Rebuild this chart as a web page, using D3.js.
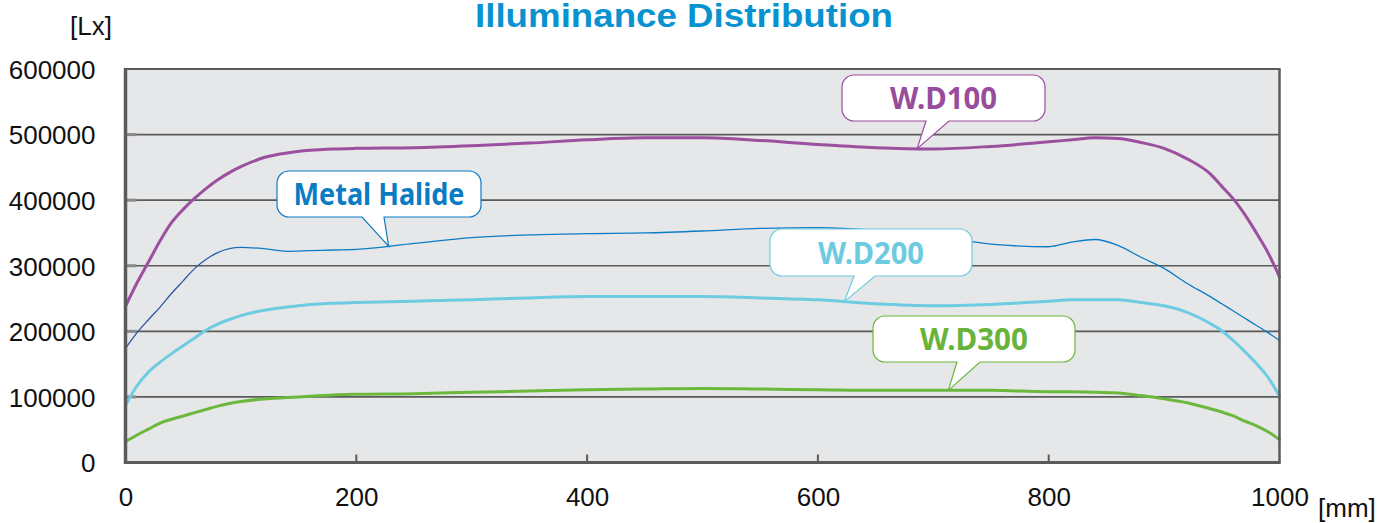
<!DOCTYPE html>
<html>
<head>
<meta charset="utf-8">
<script src="https://cdn.jsdelivr.net/npm/d3@7"></script>
<style>
  html, body { margin: 0; padding: 0; background: #ffffff; }
  svg { display: block; }
</style>
</head>
<body>
<svg id="chart" width="1395" height="523"></svg>
<script>
// ---------------- data ----------------
const positionsMm = [0, 10, 20, 30, 40, 50, 60, 70, 80, 90, 100, 120, 140, 160, 180, 200, 250, 300, 350, 400,
  450, 500, 550, 600, 650, 700, 750, 800, 820, 840, 860, 880, 900, 920, 940, 950, 960, 970, 980, 990, 1000];

const wd100 = [238000, 274000, 306000, 338000, 366000, 386000, 403000, 418000, 431000, 442000, 451000, 465000,
  472000, 476000, 478000, 479000, 480000, 483000, 487000, 492000, 495000, 495000, 491000, 485000, 480000, 478000,
  482000, 489000, 492000, 495000, 494000, 488000, 479000, 463000, 440000, 421000, 402000, 378000, 350000, 320000, 283000];

const metalHalide = [174000, 198000, 218000, 237000, 258000, 277000, 296000, 310000, 320000, 326000, 328000, 326000,
  322000, 323000, 324000, 325000, 334000, 343000, 347000, 349000, 350000, 353000, 357000, 358000, 354000, 345000,
  333000, 329000, 336000, 340000, 331000, 313000, 296000, 273000, 253000, 242000, 231000, 220000, 209000, 198000, 186000];

const wd200 = [87000, 117000, 138000, 153000, 166000, 178000, 190000, 202000, 211000, 218000, 224000, 232000,
  237000, 241000, 243000, 244000, 246000, 248000, 251000, 253000, 253000, 253000, 251000, 248000, 242000, 239000,
  241000, 246000, 248000, 248000, 248000, 244000, 239000, 229000, 212000, 201000, 186000, 169000, 151000, 130000, 101000];

const wd300 = [32000, 42000, 51000, 60000, 66000, 71000, 76000, 81000, 86000, 90000, 93000, 97000,
  99000, 101000, 103000, 104000, 105000, 107000, 109000, 111000, 112000, 113000, 112000, 111000, 110000, 110000,
  110000, 108000, 108000, 107000, 106000, 102000, 97000, 91000, 82000, 77000, 71000, 63000, 56000, 47000, 35000];

const seriesNames = ["W.D300", "W.D200", "Metal Halide", "W.D100"];
const seriesValues = [wd300, wd200, metalHalide, wd100];

const xTicks = [0, 200, 400, 600, 800, 1000];
const yTicks = [0, 100000, 200000, 300000, 400000, 500000, 600000];

const titleText = "Illuminance Distribution";
const yUnit = "[Lx]";
const xUnit = "[mm]";

// callout anchor positions along the x axis (mm)
const calloutAt = { "W.D100": 686, "Metal Halide": 228, "W.D200": 623, "W.D300": 713 };

// ---------------- styles / layout ----------------
const colors = {
  "W.D100": "#9b4f9f",
  "Metal Halide": "#0b7cc4",
  "W.D200": "#6ecce2",
  "W.D300": "#6bb83c"
};
const textColors = {
  "W.D100": "#974d9b",
  "Metal Halide": "#0a7cc4",
  "W.D200": "#6dcbe1",
  "W.D300": "#68b33a"
};
const widths = { "W.D100": 3, "Metal Halide": 1.3, "W.D200": 3, "W.D300": 3 };

// box layout [x0, y0, x1, y1], pointer base [bx0, bx1], target text width
const calloutBoxes = {
  "W.D100": { box: [842, 75, 1045, 121], base: [926, 949], tw: 107 },
  "Metal Halide": { box: [277, 171, 481, 217], base: [362, 384], tw: 171 },
  "W.D200": { box: [770, 229, 972, 276], base: [854, 875], tw: 106 },
  "W.D300": { box: [873, 316, 1075, 362], base: [957, 980], tw: 108 }
};

const plotL = 125.5, plotR = 1279.5, plotT = 69, plotB = 462.5;

const svg = d3.select("#chart");
const x = d3.scaleLinear().domain([0, 1000]).range([plotL, plotR]);
const y = d3.scaleLinear().domain([0, 600000]).range([plotB, plotT]);

const axisFont = "'Liberation Sans', Arial, Helvetica, sans-serif";

// background
svg.append("rect")
  .attr("x", plotL).attr("y", plotT)
  .attr("width", plotR - plotL).attr("height", plotB - plotT)
  .attr("fill", "#e6e7e9");

// gridlines
svg.append("g")
  .selectAll("line")
  .data(yTicks.filter(d => d > 0 && d < 600000))
  .join("line")
  .attr("x1", plotL).attr("x2", plotR)
  .attr("y1", d => y(d)).attr("y2", d => y(d))
  .attr("stroke", "#5a5a5a").attr("stroke-width", 1.6);

// inner y ticks (lighter)
svg.append("g")
  .selectAll("line")
  .data(yTicks.filter(d => d > 0 && d < 600000))
  .join("line")
  .attr("x1", plotL).attr("x2", plotL + 11)
  .attr("y1", d => y(d)).attr("y2", d => y(d))
  .attr("stroke", "#8a8a8a").attr("stroke-width", 3);

// gradient for metal halide (darker at left)
const defs = svg.append("defs");
const grad = defs.append("linearGradient")
  .attr("id", "mhGrad").attr("gradientUnits", "userSpaceOnUse")
  .attr("x1", x(0)).attr("x2", x(1000)).attr("y1", 0).attr("y2", 0);
grad.append("stop").attr("offset", "0%").attr("stop-color", "#2d4f9e");
grad.append("stop").attr("offset", "7%").attr("stop-color", "#2a5aa8");
grad.append("stop").attr("offset", "12%").attr("stop-color", "#0b7cc4");
grad.append("stop").attr("offset", "100%").attr("stop-color", "#0b7cc4");

// lines
const line = d3.line()
  .x((d, i) => x(positionsMm[i]))
  .y(d => y(d))
  .curve(d3.curveMonotoneX);

seriesNames.forEach((name, k) => {
  svg.append("path")
    .datum(seriesValues[k])
    .attr("d", line)
    .attr("fill", "none")
    .attr("stroke", name === "Metal Halide" ? "url(#mhGrad)" : colors[name])
    .attr("stroke-width", widths[name])
    .attr("stroke-linejoin", "round")
    .attr("stroke-linecap", "round");
});

// callouts
function calloutPath(b, base, tx, ty, r) {
  const [x0, y0, x1, y1] = b;
  return `M${x0 + r},${y0} H${x1 - r} A${r},${r} 0 0 1 ${x1},${y0 + r} V${y1 - r} A${r},${r} 0 0 1 ${x1 - r},${y1}` +
    ` H${base[1]} L${tx},${ty} L${base[0]},${y1} H${x0 + r} A${r},${r} 0 0 1 ${x0},${y1 - r} V${y0 + r}` +
    ` A${r},${r} 0 0 1 ${x0 + r},${y0} Z`;
}

const calloutFont = "'Noto Sans', 'Open Sans', sans-serif";
seriesNames.forEach((name, k) => {
  const interp = d3.scaleLinear().domain(positionsMm).range(seriesValues[k]);
  const at = calloutAt[name];
  const tx = x(at), ty = y(interp(at));
  const c = calloutBoxes[name];
  const g = svg.append("g");
  g.append("path")
    .attr("d", calloutPath(c.box, c.base, tx, ty, 12))
    .attr("fill", "#ffffff")
    .attr("stroke", colors[name])
    .attr("stroke-width", 1.2);
  g.append("text")
    .attr("x", (c.box[0] + c.box[2]) / 2)
    .attr("y", (c.box[1] + c.box[3]) / 2 + 11)
    .attr("text-anchor", "middle")
    .attr("font-family", calloutFont)
    .attr("font-weight", "bold")
    .attr("font-size", 31)
    .attr("textLength", c.tw)
    .attr("lengthAdjust", "spacingAndGlyphs")
    .attr("fill", textColors[name])
    .text(name);
});

// frame
const frameColor = "#5b5b5b";
svg.append("line").attr("x1", plotL - 0.5).attr("x2", plotR + 1).attr("y1", plotT).attr("y2", plotT)
  .attr("stroke", frameColor).attr("stroke-width", 2);
svg.append("line").attr("x1", plotR).attr("x2", plotR).attr("y1", plotT).attr("y2", plotB)
  .attr("stroke", frameColor).attr("stroke-width", 2.5);

// x axis with inner ticks
const xAxis = d3.axisBottom(x).tickValues(xTicks).tickSizeInner(0).tickSizeOuter(0).tickPadding(0)
  .tickFormat(d3.format("d"));
const gx = svg.append("g").attr("transform", `translate(0,${plotB})`).call(xAxis);
gx.select(".domain").remove();
gx.selectAll("text")
  .attr("y", 43).attr("dy", null)
  .attr("font-family", axisFont).attr("font-size", 26).attr("fill", "#111");

svg.append("g")
  .selectAll("line")
  .data(xTicks.filter(d => d > 0 && d < 1000))
  .join("line")
  .attr("x1", d => x(d)).attr("x2", d => x(d))
  .attr("y1", plotB - 8).attr("y2", plotB)
  .attr("stroke", frameColor).attr("stroke-width", 2);

// y axis labels
const yAxis = d3.axisLeft(y).tickValues(yTicks).tickSizeInner(0).tickSizeOuter(0).tickPadding(0)
  .tickFormat(d3.format("d"));
const gy = svg.append("g").attr("transform", `translate(${plotL},0)`).call(yAxis);
gy.select(".domain").remove();
gy.selectAll("text")
  .attr("x", -30).attr("dy", "0.36em")
  .attr("font-family", axisFont).attr("font-size", 26).attr("fill", "#111");

// thick left and bottom axis lines
svg.append("line").attr("x1", plotL).attr("x2", plotL).attr("y1", plotT - 1).attr("y2", plotB + 1.5)
  .attr("stroke", frameColor).attr("stroke-width", 3.5);
svg.append("line").attr("x1", plotL - 1.5).attr("x2", plotR + 1.2).attr("y1", plotB).attr("y2", plotB)
  .attr("stroke", frameColor).attr("stroke-width", 3);

// units
svg.append("text").attr("x", 70).attr("y", 35)
  .attr("font-family", axisFont).attr("font-size", 26).attr("fill", "#111").text(yUnit);
svg.append("text").attr("x", 1318).attr("y", 517)
  .attr("font-family", axisFont).attr("font-size", 26).attr("fill", "#111").text(xUnit);

// title
svg.append("text").attr("x", 684).attr("y", 27)
  .attr("text-anchor", "middle")
  .attr("font-family", axisFont).attr("font-weight", "bold").attr("font-size", 34)
  .attr("textLength", 418).attr("lengthAdjust", "spacingAndGlyphs")
  .attr("fill", "#0893d0").text(titleText);
</script>
</body>
</html>
